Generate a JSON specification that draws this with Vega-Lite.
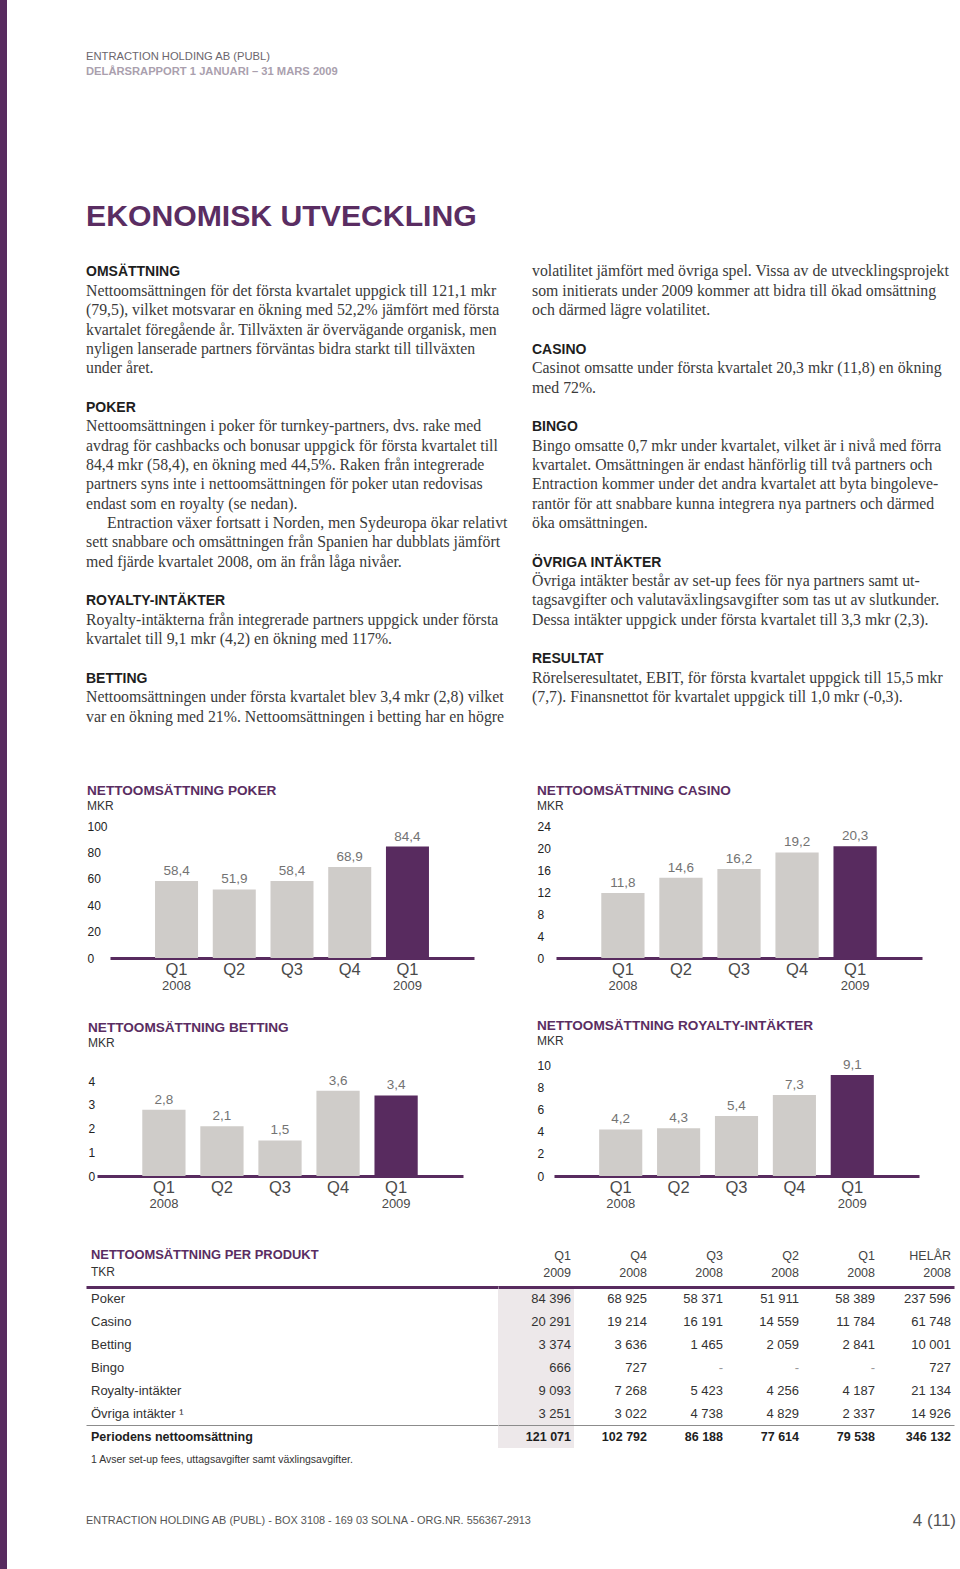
{
  "$schema": "https://vega.github.io/schema/vega-lite/v6.json",
  "padding": 0,
  "background": "#ffffff",
  "config": {
    "view": {"stroke": null},
    "font": "Liberation Sans",
    "locale": {"number": {"decimal": ",", "thousands": " ", "grouping": [3], "currency": ["", ""]}},
    "title": {"font": "Liberation Sans", "subtitleFont": "Liberation Sans"}
  },
  "datasets": {
    "poker": [
      {"period": "Q1 2008", "quarter": "Q1", "year": "2008", "mkr": 58.4},
      {"period": "Q2 2008", "quarter": "Q2", "year": "2008", "mkr": 51.9},
      {"period": "Q3 2008", "quarter": "Q3", "year": "2008", "mkr": 58.4},
      {"period": "Q4 2008", "quarter": "Q4", "year": "2008", "mkr": 68.9},
      {"period": "Q1 2009", "quarter": "Q1", "year": "2009", "mkr": 84.4}
    ],
    "casino": [
      {"period": "Q1 2008", "quarter": "Q1", "year": "2008", "mkr": 11.8},
      {"period": "Q2 2008", "quarter": "Q2", "year": "2008", "mkr": 14.6},
      {"period": "Q3 2008", "quarter": "Q3", "year": "2008", "mkr": 16.2},
      {"period": "Q4 2008", "quarter": "Q4", "year": "2008", "mkr": 19.2},
      {"period": "Q1 2009", "quarter": "Q1", "year": "2009", "mkr": 20.3}
    ],
    "betting": [
      {"period": "Q1 2008", "quarter": "Q1", "year": "2008", "mkr": 2.8},
      {"period": "Q2 2008", "quarter": "Q2", "year": "2008", "mkr": 2.1},
      {"period": "Q3 2008", "quarter": "Q3", "year": "2008", "mkr": 1.5},
      {"period": "Q4 2008", "quarter": "Q4", "year": "2008", "mkr": 3.6},
      {"period": "Q1 2009", "quarter": "Q1", "year": "2009", "mkr": 3.4}
    ],
    "royalty": [
      {"period": "Q1 2008", "quarter": "Q1", "year": "2008", "mkr": 4.2},
      {"period": "Q2 2008", "quarter": "Q2", "year": "2008", "mkr": 4.3},
      {"period": "Q3 2008", "quarter": "Q3", "year": "2008", "mkr": 5.4},
      {"period": "Q4 2008", "quarter": "Q4", "year": "2008", "mkr": 7.3},
      {"period": "Q1 2009", "quarter": "Q1", "year": "2009", "mkr": 9.1}
    ],
    "brodtext": [
      {"spalt": 0, "rad": 0, "typ": "rubrik", "text": "OMSÄTTNING"},
      {"spalt": 0, "rad": 1, "typ": "text", "text": "Nettoomsättningen för det första kvartalet uppgick till 121,1 mkr"},
      {"spalt": 0, "rad": 2, "typ": "text", "text": "(79,5), vilket motsvarar en ökning med 52,2% jämfört med första"},
      {"spalt": 0, "rad": 3, "typ": "text", "text": "kvartalet föregående år. Tillväxten är övervägande organisk, men"},
      {"spalt": 0, "rad": 4, "typ": "text", "text": "nyligen lanserade partners förväntas bidra starkt till tillväxten"},
      {"spalt": 0, "rad": 5, "typ": "text", "text": "under året."},
      {"spalt": 0, "rad": 7, "typ": "rubrik", "text": "POKER"},
      {"spalt": 0, "rad": 8, "typ": "text", "text": "Nettoomsättningen i poker för turnkey-partners, dvs. rake med"},
      {"spalt": 0, "rad": 9, "typ": "text", "text": "avdrag för cashbacks och bonusar uppgick för första kvartalet till"},
      {"spalt": 0, "rad": 10, "typ": "text", "text": "84,4 mkr (58,4), en ökning med 44,5%. Raken från integrerade"},
      {"spalt": 0, "rad": 11, "typ": "text", "text": "partners syns inte i nettoomsättningen för poker utan redovisas"},
      {"spalt": 0, "rad": 12, "typ": "text", "text": "endast som en royalty (se nedan)."},
      {"spalt": 0, "rad": 13, "typ": "indrag", "text": "Entraction växer fortsatt i Norden, men Sydeuropa ökar relativt"},
      {"spalt": 0, "rad": 14, "typ": "text", "text": "sett snabbare och omsättningen från Spanien har dubblats jämfört"},
      {"spalt": 0, "rad": 15, "typ": "text", "text": "med fjärde kvartalet 2008, om än från låga nivåer."},
      {"spalt": 0, "rad": 17, "typ": "rubrik", "text": "ROYALTY-INTÄKTER"},
      {"spalt": 0, "rad": 18, "typ": "text", "text": "Royalty-intäkterna från integrerade partners uppgick under första"},
      {"spalt": 0, "rad": 19, "typ": "text", "text": "kvartalet till 9,1 mkr (4,2) en ökning med 117%."},
      {"spalt": 0, "rad": 21, "typ": "rubrik", "text": "BETTING"},
      {"spalt": 0, "rad": 22, "typ": "text", "text": "Nettoomsättningen under första kvartalet blev 3,4  mkr (2,8) vilket"},
      {"spalt": 0, "rad": 23, "typ": "text", "text": "var en ökning med 21%. Nettoomsättningen i betting har en högre"},
      {"spalt": 1, "rad": 0, "typ": "text", "text": "volatilitet jämfört med övriga spel. Vissa av de utvecklingsprojekt"},
      {"spalt": 1, "rad": 1, "typ": "text", "text": "som initierats under 2009 kommer att bidra till ökad omsättning"},
      {"spalt": 1, "rad": 2, "typ": "text", "text": "och därmed lägre volatilitet."},
      {"spalt": 1, "rad": 4, "typ": "rubrik", "text": "CASINO"},
      {"spalt": 1, "rad": 5, "typ": "text", "text": "Casinot omsatte under första kvartalet 20,3 mkr (11,8) en ökning"},
      {"spalt": 1, "rad": 6, "typ": "text", "text": "med 72%."},
      {"spalt": 1, "rad": 8, "typ": "rubrik", "text": "BINGO"},
      {"spalt": 1, "rad": 9, "typ": "text", "text": "Bingo omsatte 0,7 mkr under kvartalet, vilket är i nivå med förra"},
      {"spalt": 1, "rad": 10, "typ": "text", "text": "kvartalet. Omsättningen är endast hänförlig till två partners och"},
      {"spalt": 1, "rad": 11, "typ": "text", "text": "Entraction kommer under det andra kvartalet att byta bingoleve-"},
      {"spalt": 1, "rad": 12, "typ": "text", "text": "rantör för att snabbare kunna integrera nya partners och därmed"},
      {"spalt": 1, "rad": 13, "typ": "text", "text": "öka omsättningen."},
      {"spalt": 1, "rad": 15, "typ": "rubrik", "text": "ÖVRIGA INTÄKTER"},
      {"spalt": 1, "rad": 16, "typ": "text", "text": "Övriga intäkter består av set-up fees för nya partners samt ut-"},
      {"spalt": 1, "rad": 17, "typ": "text", "text": "tagsavgifter och valutaväxlingsavgifter som tas ut av slutkunder."},
      {"spalt": 1, "rad": 18, "typ": "text", "text": "Dessa intäkter uppgick under första kvartalet till 3,3 mkr (2,3)."},
      {"spalt": 1, "rad": 20, "typ": "rubrik", "text": "RESULTAT"},
      {"spalt": 1, "rad": 21, "typ": "text", "text": "Rörelseresultatet, EBIT, för första kvartalet uppgick till 15,5 mkr"},
      {"spalt": 1, "rad": 22, "typ": "text", "text": "(7,7). Finansnettot för kvartalet uppgick till 1,0 mkr (-0,3)."}
    ],
    "tabell": [
      {"produkt": "Poker", "period": "Q1 2009", "tkr": 84396},
      {"produkt": "Poker", "period": "Q4 2008", "tkr": 68925},
      {"produkt": "Poker", "period": "Q3 2008", "tkr": 58371},
      {"produkt": "Poker", "period": "Q2 2008", "tkr": 51911},
      {"produkt": "Poker", "period": "Q1 2008", "tkr": 58389},
      {"produkt": "Poker", "period": "HELÅR 2008", "tkr": 237596},
      {"produkt": "Casino", "period": "Q1 2009", "tkr": 20291},
      {"produkt": "Casino", "period": "Q4 2008", "tkr": 19214},
      {"produkt": "Casino", "period": "Q3 2008", "tkr": 16191},
      {"produkt": "Casino", "period": "Q2 2008", "tkr": 14559},
      {"produkt": "Casino", "period": "Q1 2008", "tkr": 11784},
      {"produkt": "Casino", "period": "HELÅR 2008", "tkr": 61748},
      {"produkt": "Betting", "period": "Q1 2009", "tkr": 3374},
      {"produkt": "Betting", "period": "Q4 2008", "tkr": 3636},
      {"produkt": "Betting", "period": "Q3 2008", "tkr": 1465},
      {"produkt": "Betting", "period": "Q2 2008", "tkr": 2059},
      {"produkt": "Betting", "period": "Q1 2008", "tkr": 2841},
      {"produkt": "Betting", "period": "HELÅR 2008", "tkr": 10001},
      {"produkt": "Bingo", "period": "Q1 2009", "tkr": 666},
      {"produkt": "Bingo", "period": "Q4 2008", "tkr": 727},
      {"produkt": "Bingo", "period": "Q3 2008", "tkr": null},
      {"produkt": "Bingo", "period": "Q2 2008", "tkr": null},
      {"produkt": "Bingo", "period": "Q1 2008", "tkr": null},
      {"produkt": "Bingo", "period": "HELÅR 2008", "tkr": 727},
      {"produkt": "Royalty-intäkter", "period": "Q1 2009", "tkr": 9093},
      {"produkt": "Royalty-intäkter", "period": "Q4 2008", "tkr": 7268},
      {"produkt": "Royalty-intäkter", "period": "Q3 2008", "tkr": 5423},
      {"produkt": "Royalty-intäkter", "period": "Q2 2008", "tkr": 4256},
      {"produkt": "Royalty-intäkter", "period": "Q1 2008", "tkr": 4187},
      {"produkt": "Royalty-intäkter", "period": "HELÅR 2008", "tkr": 21134},
      {"produkt": "Övriga intäkter ¹", "period": "Q1 2009", "tkr": 3251},
      {"produkt": "Övriga intäkter ¹", "period": "Q4 2008", "tkr": 3022},
      {"produkt": "Övriga intäkter ¹", "period": "Q3 2008", "tkr": 4738},
      {"produkt": "Övriga intäkter ¹", "period": "Q2 2008", "tkr": 4829},
      {"produkt": "Övriga intäkter ¹", "period": "Q1 2008", "tkr": 2337},
      {"produkt": "Övriga intäkter ¹", "period": "HELÅR 2008", "tkr": 14926},
      {"produkt": "Periodens nettoomsättning", "period": "Q1 2009", "tkr": 121071},
      {"produkt": "Periodens nettoomsättning", "period": "Q4 2008", "tkr": 102792},
      {"produkt": "Periodens nettoomsättning", "period": "Q3 2008", "tkr": 86188},
      {"produkt": "Periodens nettoomsättning", "period": "Q2 2008", "tkr": 77614},
      {"produkt": "Periodens nettoomsättning", "period": "Q1 2008", "tkr": 79538},
      {"produkt": "Periodens nettoomsättning", "period": "HELÅR 2008", "tkr": 346132}
    ]
  },
  "spacing": 79,
  "bounds": "flush",
  "hconcat": [
    {
      "width": 7, "height": 1569,
      "view": {"fill": "#582b5f", "stroke": null},
      "data": {"values": [{"tom": ""}]},
      "mark": "text",
      "encoding": {"text": {"field": "tom"}}
    },
    {
      "spacing": 0,
      "bounds": "flush",
      "vconcat": [
        {
          "width": 870, "height": 183,
          "data": {"values": [
            {"rad": 0, "typ": "bolag", "text": "ENTRACTION HOLDING AB (PUBL)"},
            {"rad": 1, "typ": "period", "text": "DELÅRSRAPPORT 1 JANUARI – 31 MARS 2009"}
          ]},
          "encoding": {
            "x": {"datum": 0, "type": "quantitative", "scale": {"domain": [0, 1]}, "axis": null},
            "y": {"field": "rad", "type": "quantitative", "scale": {"domain": [-3.947, 8.092], "reverse": true, "nice": false, "zero": false}, "axis": null},
            "text": {"field": "text"}
          },
          "layer": [
            {"transform": [{"filter": "datum.typ == 'bolag'"}], "mark": {"type": "text", "align": "left", "baseline": "alphabetic", "fontSize": 11.2, "color": "#6b666d"}},
            {"transform": [{"filter": "datum.typ == 'period'"}], "mark": {"type": "text", "align": "left", "baseline": "alphabetic", "fontSize": 11.2, "fontWeight": "bold", "color": "#aa9fae"}}
          ]
        },
        {
          "width": 870, "height": 67,
          "data": {"values": [{"text": "EKONOMISK UTVECKLING"}]},
          "mark": {"type": "text", "align": "left", "baseline": "middle", "fontSize": 30.2, "fontWeight": "bold", "color": "#5a2d62"},
          "encoding": {
            "x": {"datum": 0, "type": "quantitative", "scale": {"domain": [0, 1]}, "axis": null},
            "text": {"field": "text"}
          }
        },
        {
          "width": 870, "height": 576,
          "data": {"name": "brodtext"},
          "encoding": {
            "x": {"field": "spalt", "type": "quantitative", "scale": {"domain": [0, 1.9507], "nice": false, "zero": false}, "axis": null},
            "y": {"field": "rad", "type": "quantitative", "scale": {"domain": [-1.3695, 28.398], "reverse": true, "nice": false, "zero": false}, "axis": null},
            "text": {"field": "text"}
          },
          "layer": [
            {"transform": [{"filter": "datum.typ == 'rubrik'"}], "mark": {"type": "text", "align": "left", "baseline": "alphabetic", "fontSize": 14, "fontWeight": "bold", "color": "#1e1e1e"}},
            {"transform": [{"filter": "datum.typ == 'text'"}], "mark": {"type": "text", "align": "left", "baseline": "alphabetic", "font": "Liberation Serif", "fontSize": 15.8, "color": "#3a3a3a"}},
            {"transform": [{"filter": "datum.typ == 'indrag'"}], "mark": {"type": "text", "align": "left", "baseline": "alphabetic", "dx": 21, "font": "Liberation Serif", "fontSize": 15.8, "color": "#3a3a3a"}}
          ]
        },
        {
          "spacing": 0,
          "bounds": "flush",
          "hconcat": [
            {"width": 24, "height": 132, "data": {"values": [{"tom": ""}]}, "mark": "text", "encoding": {"text": {"field": "tom"}}},
            {
              "width": 364, "height": 132,
              "data": {"name": "poker"},
              "title": {"text": "NETTOOMSÄTTNING POKER", "subtitle": "MKR", "anchor": "start", "frame": "bounds", "offset": 8, "subtitlePadding": 3, "fontSize": 13.6, "fontWeight": "bold", "color": "#5a2d62", "subtitleFontSize": 12, "subtitleColor": "#333333"},
              "encoding": {
                "x": {"field": "period", "type": "nominal", "sort": null, "scale": {"paddingInner": 0.255, "paddingOuter": 0.78}, "axis": {"title": null, "orient": "bottom", "labelExpr": "split(datum.label, ' ')[0]", "labelAngle": 0, "labelFontSize": 16.5, "labelColor": "#4a4a4a", "labelPadding": 3, "ticks": false, "tickSize": 0, "grid": false, "domainColor": "#582b5f", "domainWidth": 3}},
                "y": {"field": "mkr", "type": "quantitative", "scale": {"domain": [0, 100]}, "axis": {"values": [0, 20, 40, 60, 80, 100], "title": null, "domain": false, "ticks": false, "tickSize": 0, "grid": false, "labelAlign": "left", "labelPadding": 23, "labelFontSize": 12, "labelColor": "#222222", "labelBaseline": "middle"}}
              },
              "layer": [
                {"mark": {"type": "bar"}, "encoding": {
                  "color": {"field": "year", "type": "nominal", "scale": {"domain": ["2008", "2009"], "range": ["#cfccc9", "#582b5f"]}, "legend": null}}},
                {"mark": {"type": "text", "baseline": "bottom", "dy": -3, "fontSize": 13.5, "color": "#737373"}, "encoding": {
                  "text": {"field": "mkr", "type": "quantitative", "format": ",.1f"}}},
                {"transform": [{"filter": "datum.quarter == 'Q1'"}], "mark": {"type": "text", "baseline": "middle", "yOffset": 28, "fontSize": 13, "color": "#4a4a4a"}, "encoding": {
                  "y": {"datum": 0, "type": "quantitative"},
                  "text": {"field": "year"}}}
              ]
            },
            {"width": 82, "height": 132, "data": {"values": [{"tom": ""}]}, "mark": "text", "encoding": {"text": {"field": "tom"}}},
            {
              "width": 366, "height": 132,
              "data": {"name": "casino"},
              "title": {"text": "NETTOOMSÄTTNING CASINO", "subtitle": "MKR", "anchor": "start", "frame": "bounds", "offset": 8, "subtitlePadding": 3, "fontSize": 13.6, "fontWeight": "bold", "color": "#5a2d62", "subtitleFontSize": 12, "subtitleColor": "#333333"},
              "encoding": {
                "x": {"field": "period", "type": "nominal", "sort": null, "scale": {"paddingInner": 0.255, "paddingOuter": 0.78}, "axis": {"title": null, "orient": "bottom", "labelExpr": "split(datum.label, ' ')[0]", "labelAngle": 0, "labelFontSize": 16.5, "labelColor": "#4a4a4a", "labelPadding": 3, "ticks": false, "tickSize": 0, "grid": false, "domainColor": "#582b5f", "domainWidth": 3}},
                "y": {"field": "mkr", "type": "quantitative", "scale": {"domain": [0, 24]}, "axis": {"values": [0, 4, 8, 12, 16, 20, 24], "title": null, "domain": false, "ticks": false, "tickSize": 0, "grid": false, "labelAlign": "left", "labelPadding": 19, "labelFontSize": 12, "labelColor": "#222222", "labelBaseline": "middle"}}
              },
              "layer": [
                {"mark": {"type": "bar"}, "encoding": {
                  "color": {"field": "year", "type": "nominal", "scale": {"domain": ["2008", "2009"], "range": ["#cfccc9", "#582b5f"]}, "legend": null}}},
                {"mark": {"type": "text", "baseline": "bottom", "dy": -3, "fontSize": 13.5, "color": "#737373"}, "encoding": {
                  "text": {"field": "mkr", "type": "quantitative", "format": ",.1f"}}},
                {"transform": [{"filter": "datum.quarter == 'Q1'"}], "mark": {"type": "text", "baseline": "middle", "yOffset": 28, "fontSize": 13, "color": "#4a4a4a"}, "encoding": {
                  "y": {"datum": 0, "type": "quantitative"},
                  "text": {"field": "year"}}}
              ]
            }
          ]
        },
        {"width": 10, "height": 239, "data": {"values": [{"tom": ""}]}, "mark": "text", "encoding": {"text": {"field": "tom"}}},
        {
          "spacing": 0,
          "bounds": "flush",
          "hconcat": [
            {"width": 11, "height": 111, "data": {"values": [{"tom": ""}]}, "mark": "text", "encoding": {"text": {"field": "tom"}}},
            {
              "width": 366, "height": 111,
              "data": {"name": "betting"},
              "title": {"text": "NETTOOMSÄTTNING BETTING", "subtitle": "MKR", "anchor": "start", "frame": "bounds", "offset": 16, "subtitlePadding": 3, "fontSize": 13.6, "fontWeight": "bold", "color": "#5a2d62", "subtitleFontSize": 12, "subtitleColor": "#333333"},
              "encoding": {
                "x": {"field": "period", "type": "nominal", "sort": null, "scale": {"paddingInner": 0.255, "paddingOuter": 0.78}, "axis": {"title": null, "orient": "bottom", "labelExpr": "split(datum.label, ' ')[0]", "labelAngle": 0, "labelFontSize": 16.5, "labelColor": "#4a4a4a", "labelPadding": 3, "ticks": false, "tickSize": 0, "grid": false, "domainColor": "#582b5f", "domainWidth": 3}},
                "y": {"field": "mkr", "type": "quantitative", "scale": {"domain": [0, 4.684]}, "axis": {"values": [0, 1, 2, 3, 4], "title": null, "domain": false, "ticks": false, "tickSize": 0, "grid": false, "labelAlign": "left", "labelPadding": 9, "labelFontSize": 12, "labelColor": "#222222", "labelBaseline": "middle"}}
              },
              "layer": [
                {"mark": {"type": "bar"}, "encoding": {
                  "color": {"field": "year", "type": "nominal", "scale": {"domain": ["2008", "2009"], "range": ["#cfccc9", "#582b5f"]}, "legend": null}}},
                {"mark": {"type": "text", "baseline": "bottom", "dy": -3, "fontSize": 13.5, "color": "#737373"}, "encoding": {
                  "text": {"field": "mkr", "type": "quantitative", "format": ",.1f"}}},
                {"transform": [{"filter": "datum.quarter == 'Q1'"}], "mark": {"type": "text", "baseline": "middle", "yOffset": 28, "fontSize": 13, "color": "#4a4a4a"}, "encoding": {
                  "y": {"datum": 0, "type": "quantitative"},
                  "text": {"field": "year"}}}
              ]
            },
            {"width": 91, "height": 111, "data": {"values": [{"tom": ""}]}, "mark": "text", "encoding": {"text": {"field": "tom"}}},
            {
              "width": 365, "height": 111,
              "data": {"name": "royalty"},
              "title": {"text": "NETTOOMSÄTTNING ROYALTY-INTÄKTER", "subtitle": "MKR", "anchor": "start", "frame": "bounds", "offset": 11, "subtitlePadding": 3, "fontSize": 13.6, "fontWeight": "bold", "color": "#5a2d62", "subtitleFontSize": 12, "subtitleColor": "#333333"},
              "encoding": {
                "x": {"field": "period", "type": "nominal", "sort": null, "scale": {"paddingInner": 0.255, "paddingOuter": 0.78}, "axis": {"title": null, "orient": "bottom", "labelExpr": "split(datum.label, ' ')[0]", "labelAngle": 0, "labelFontSize": 16.5, "labelColor": "#4a4a4a", "labelPadding": 3, "ticks": false, "tickSize": 0, "grid": false, "domainColor": "#582b5f", "domainWidth": 3}},
                "y": {"field": "mkr", "type": "quantitative", "scale": {"domain": [0, 10]}, "axis": {"values": [0, 2, 4, 6, 8, 10], "title": null, "domain": false, "ticks": false, "tickSize": 0, "grid": false, "labelAlign": "left", "labelPadding": 17, "labelFontSize": 12, "labelColor": "#222222", "labelBaseline": "middle"}}
              },
              "layer": [
                {"mark": {"type": "bar"}, "encoding": {
                  "color": {"field": "year", "type": "nominal", "scale": {"domain": ["2008", "2009"], "range": ["#cfccc9", "#582b5f"]}, "legend": null}}},
                {"mark": {"type": "text", "baseline": "bottom", "dy": -3, "fontSize": 13.5, "color": "#737373"}, "encoding": {
                  "text": {"field": "mkr", "type": "quantitative", "format": ",.1f"}}},
                {"transform": [{"filter": "datum.quarter == 'Q1'"}], "mark": {"type": "text", "baseline": "middle", "yOffset": 28, "fontSize": 13, "color": "#4a4a4a"}, "encoding": {
                  "y": {"datum": 0, "type": "quantitative"},
                  "text": {"field": "year"}}}
              ]
            }
          ]
        },
        {"width": 10, "height": 222, "data": {"values": [{"tom": ""}]}, "mark": "text", "encoding": {"text": {"field": "tom"}}},
        {
          "spacing": 0,
          "bounds": "flush",
          "hconcat": [
            {
              "width": 412, "height": 161,
              "data": {"name": "tabell"},
              "transform": [{"filter": "datum.period == 'Q1 2009'"}],
              "title": {"text": "NETTOOMSÄTTNING PER PRODUKT", "subtitle": "TKR", "anchor": "start", "frame": "group", "dx": 5, "offset": 9, "subtitlePadding": 5, "fontSize": 12.9, "fontWeight": "bold", "color": "#5a2d62", "subtitleFontSize": 12, "subtitleColor": "#333333"},
              "encoding": {
                "x": {"datum": 0, "type": "quantitative", "scale": {"domain": [0, 1]}, "axis": {"orient": "top", "title": null, "labels": false, "ticks": false, "tickSize": 0, "grid": false, "domain": true, "domainColor": "#582b5f", "domainWidth": 3}},
                "y": {"field": "produkt", "type": "nominal", "scale": {"type": "band", "domain": ["Poker", "Casino", "Betting", "Bingo", "Royalty-intäkter", "Övriga intäkter ¹", "Periodens nettoomsättning"], "paddingInner": 0, "paddingOuter": 0}, "axis": {"values": ["Periodens nettoomsättning"], "bandPosition": 0, "title": null, "labels": false, "ticks": false, "tickSize": 0, "domain": false, "grid": true, "gridColor": "#8c8c8c", "gridWidth": 1}},
                "text": {"field": "produkt"}
              },
              "layer": [
                {"transform": [{"filter": "datum.produkt != 'Periodens nettoomsättning'"}], "mark": {"type": "text", "align": "left", "baseline": "middle", "dx": 5, "fontSize": 13, "color": "#333333"}},
                {"transform": [{"filter": "datum.produkt == 'Periodens nettoomsättning'"}], "mark": {"type": "text", "align": "left", "baseline": "middle", "dx": 5, "fontSize": 12.5, "fontWeight": "bold", "color": "#1e1e1e"}}
              ]
            },
            {
              "width": 456, "height": 161,
              "data": {"name": "tabell"},
              "encoding": {
                "x": {"field": "period", "type": "nominal", "scale": {"type": "band", "domain": ["Q1 2009", "Q4 2008", "Q3 2008", "Q2 2008", "Q1 2008", "HELÅR 2008"], "paddingInner": 0, "paddingOuter": 0}, "axis": {"orient": "top", "title": null, "labelAlign": "right", "labelOffset": 35, "labelExpr": "split(datum.label, ' ')", "labelLineHeight": 17, "labelFontSize": 12.5, "labelColor": "#444444", "labelPadding": 25, "labelBaseline": "bottom", "labelAngle": 0, "ticks": false, "tickSize": 0, "grid": false, "domainColor": "#582b5f", "domainWidth": 3}},
                "y": {"field": "produkt", "type": "nominal", "scale": {"type": "band", "domain": ["Poker", "Casino", "Betting", "Bingo", "Royalty-intäkter", "Övriga intäkter ¹", "Periodens nettoomsättning"], "paddingInner": 0, "paddingOuter": 0}, "axis": {"values": ["Periodens nettoomsättning"], "bandPosition": 0, "title": null, "labels": false, "ticks": false, "tickSize": 0, "domain": false, "grid": true, "gridColor": "#8c8c8c", "gridWidth": 1}}
              },
              "layer": [
                {"transform": [{"filter": "datum.period == 'Q1 2009'"}], "mark": {"type": "rect", "color": "#ede8ea"}},
                {"transform": [{"filter": "datum.produkt != 'Periodens nettoomsättning'"}], "mark": {"type": "text", "align": "right", "baseline": "middle", "dx": -3, "fontSize": 13}, "encoding": {
                  "x": {"field": "period", "type": "nominal", "bandPosition": 1},
                  "text": {"condition": {"test": "datum.tkr === null", "value": "-"}, "field": "tkr", "type": "quantitative", "format": ",d"},
                  "color": {"condition": {"test": "datum.tkr === null", "value": "#9a9a9a"}, "value": "#333333"}}},
                {"transform": [{"filter": "datum.produkt == 'Periodens nettoomsättning'"}], "mark": {"type": "text", "align": "right", "baseline": "middle", "dx": -3, "fontSize": 12.5, "fontWeight": "bold", "color": "#1e1e1e"}, "encoding": {
                  "x": {"field": "period", "type": "nominal", "bandPosition": 1},
                  "text": {"field": "tkr", "type": "quantitative", "format": ",d"}}}
              ]
            }
          ]
        },
        {"width": 10, "height": 161, "data": {"values": [{"tom": ""}]}, "mark": "text", "encoding": {"text": {"field": "tom"}}},
        {
          "width": 870, "height": 24,
          "data": {"values": [{"text": "1  Avser set-up fees, uttagsavgifter samt växlingsavgifter."}]},
          "mark": {"type": "text", "align": "left", "baseline": "middle", "dx": 5, "fontSize": 10.5, "color": "#333333"},
          "encoding": {
            "x": {"datum": 0, "type": "quantitative", "scale": {"domain": [0, 1]}, "axis": null},
            "text": {"field": "text"}
          }
        },
        {
          "width": 870, "height": 97,
          "data": {"values": [
            {"sida": 0, "text": "ENTRACTION HOLDING AB (PUBL) - BOX 3108 - 169 03 SOLNA - ORG.NR. 556367-2913"},
            {"sida": 1, "text": "4 (11)"}
          ]},
          "encoding": {
            "x": {"field": "sida", "type": "quantitative", "scale": {"domain": [0, 1]}, "axis": null},
            "text": {"field": "text"}
          },
          "layer": [
            {"transform": [{"filter": "datum.sida == 0"}], "mark": {"type": "text", "align": "left", "baseline": "middle", "fontSize": 10.9, "color": "#555555"}},
            {"transform": [{"filter": "datum.sida == 1"}], "mark": {"type": "text", "align": "right", "baseline": "middle", "fontSize": 17, "color": "#555555"}}
          ]
        }
      ]
    }
  ]
}
